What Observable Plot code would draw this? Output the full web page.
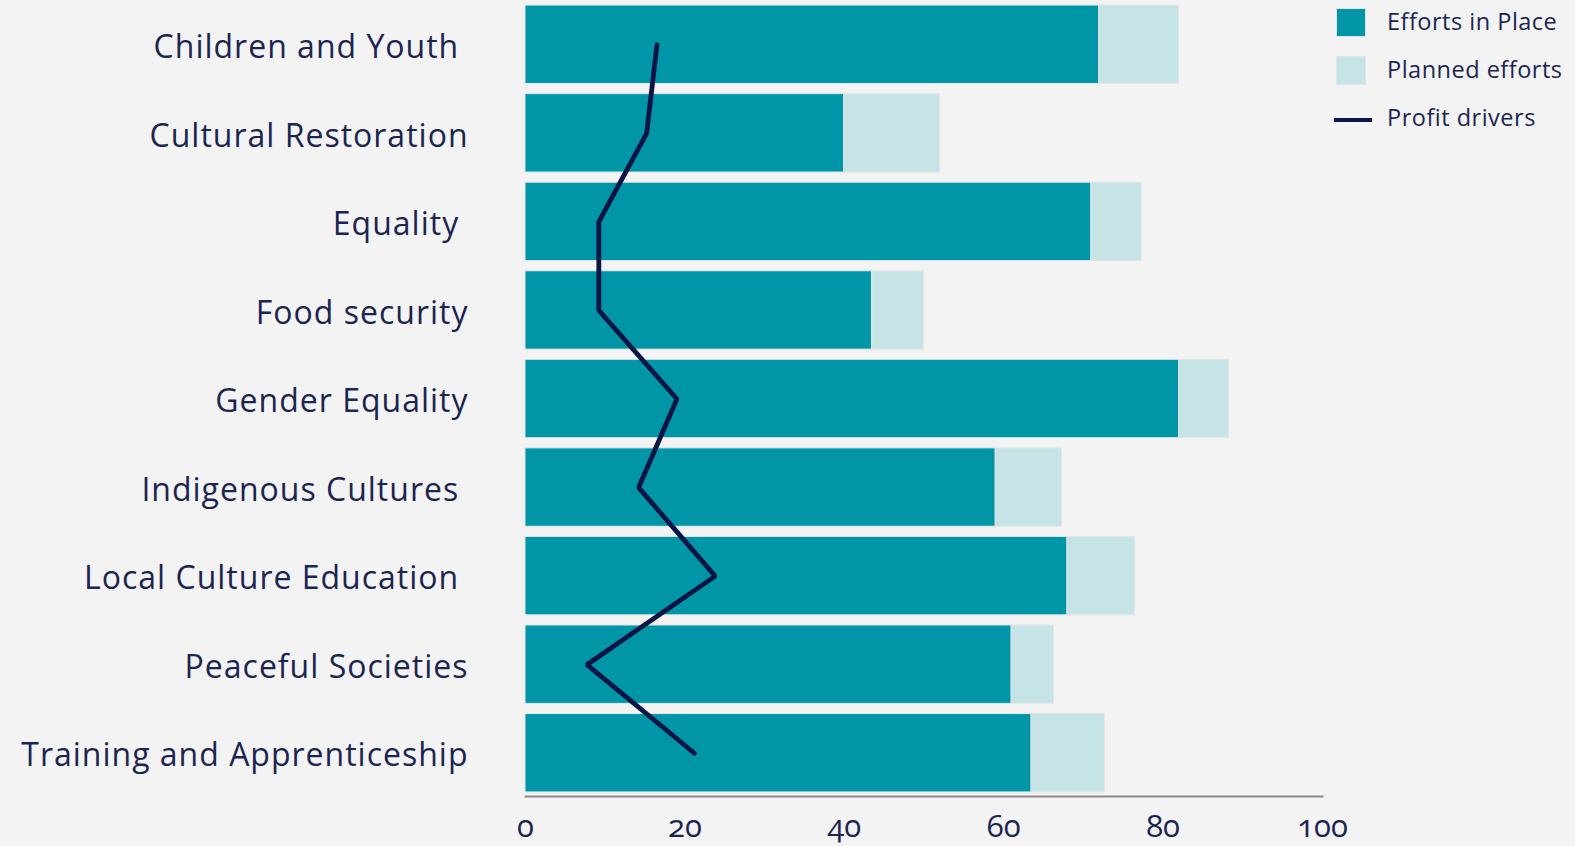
<!DOCTYPE html>
<html><head><meta charset="utf-8">
<script src="https://cdn.jsdelivr.net/npm/d3@7"></script>
<script src="https://cdn.jsdelivr.net/npm/@observablehq/plot@0.6"></script>
<style>
html,body{margin:0;padding:0;background:#f3f3f3;}
#wrap{position:relative;width:1575px;height:846px;overflow:hidden;font-family:"Open Sans",Lato,sans-serif;color:#1b2550;}
#legend{position:absolute;left:0;top:0;width:1575px;height:846px;pointer-events:none;}
.sw{position:absolute;width:28px;height:27px;}
.lt{position:absolute;font-size:23.5px;line-height:22px;letter-spacing:0.5px;color:#1b2550;font-family:"Open Sans",sans-serif;white-space:nowrap;}
</style>
</head><body>
<div id="wrap"><div id="chart"></div><div id="legend"></div></div>
<script>
const categories = ["Children and Youth ","Cultural Restoration","Equality ","Food security","Gender Equality","Indigenous Cultures ","Local Culture Education ","Peaceful Societies","Training and Apprenticeship"];
const effortsInPlace = [72, 40, 71, 43.5, 82, 59, 68, 61, 63.5];
const totalWithPlanned = [82, 52, 77.3, 50, 88.3, 67.3, 76.5, 66.3, 72.7];
const plannedEfforts = totalWithPlanned.map((t, i) => +(t - effortsInPlace[i]).toFixed(1));
const profitDrivers = [16.5, 15.2, 9.2, 9.2, 19, 14.2, 23.8, 7.7, 21.2];
const xTicks = [0, 20, 40, 60, 80, 100];
const seriesNames = ["Efforts in Place", "Planned efforts", "Profit drivers"];
const colors = {teal: "#0096a8", light: "#c6e4e5", navy: "#0b1545", text: "#1b2550"};

const rows = [];
categories.forEach((c, i) => {
  rows.push({cat: c, series: seriesNames[0], value: effortsInPlace[i]});
  rows.push({cat: c, series: seriesNames[1], value: plannedEfforts[i]});
});
const lineData = categories.map((c, i) => ({cat: c, value: profitDrivers[i]}));

const chart = Plot.plot({
  width: 1575,
  height: 846,
  marginLeft: 525,
  marginRight: 253,
  marginTop: 1,
  marginBottom: 50,
  style: {background: "#f3f3f3", fontFamily: "'Open Sans', Lato, sans-serif", color: colors.text},
  x: {domain: [0, 100], ticks: xTicks, label: null},
  y: {domain: categories, paddingInner: 0.115, paddingOuter: 0.046, round: false, label: null},
  color: {domain: seriesNames.slice(0, 2), range: [colors.teal, colors.light]},
  marks: [
    Plot.barX(rows, Plot.stackX({x: "value", y: "cat", fill: "series", stroke: "#e2e6e6", strokeWidth: 1, order: seriesNames})),
    Plot.line(lineData, {x: "value", y: "cat", stroke: colors.navy, strokeWidth: 4.8, strokeLinejoin: "miter"}),
    Plot.frame({anchor: "bottom", stroke: "#8a8a8a", strokeWidth: 2}),
    Plot.axisX({ticks: xTicks, tickSize: 0, tickPadding: 18, fontSize: 31, label: null, fill: colors.text, className: "xax"}),
    Plot.axisY({tickSize: 0, tickPadding: 57, fontSize: 32, dy: 3, label: null, fill: colors.text, className: "yax"})
  ]
});
chart.querySelectorAll("text").forEach(t => { t.style.whiteSpace = "pre"; });
chart.querySelectorAll(".yax text").forEach(t => { t.style.letterSpacing = "1px"; });
chart.querySelectorAll(".xax text").forEach(t => { t.style.fontVariantNumeric = "oldstyle-nums"; t.style.fontFeatureSettings = '"onum" 1'; });
document.getElementById("chart").appendChild(chart);

const lg = document.getElementById("legend");
const items = [
  {name: seriesNames[0], type: "sq", color: colors.teal, y: 9},
  {name: seriesNames[1], type: "sq", color: colors.light, y: 57},
  {name: seriesNames[2], type: "ln", color: colors.navy, y: 105}
];
items.forEach(it => {
  const s = document.createElement("div");
  if (it.type === "sq") {
    s.className = "sw";
    s.style.left = "1337px"; s.style.top = it.y + "px"; s.style.background = it.color;
    s.style.boxShadow = "0 0 0 1px #dfe3e3";
  } else {
    s.style.position = "absolute"; s.style.left = "1334px"; s.style.top = (it.y + 13) + "px";
    s.style.width = "38px"; s.style.height = "4px"; s.style.background = it.color;
  }
  lg.appendChild(s);
  const t = document.createElement("div");
  t.className = "lt"; t.textContent = it.name;
  t.style.left = "1387px"; t.style.top = (it.y + 1) + "px";
  lg.appendChild(t);
});
</script>
</body></html>
